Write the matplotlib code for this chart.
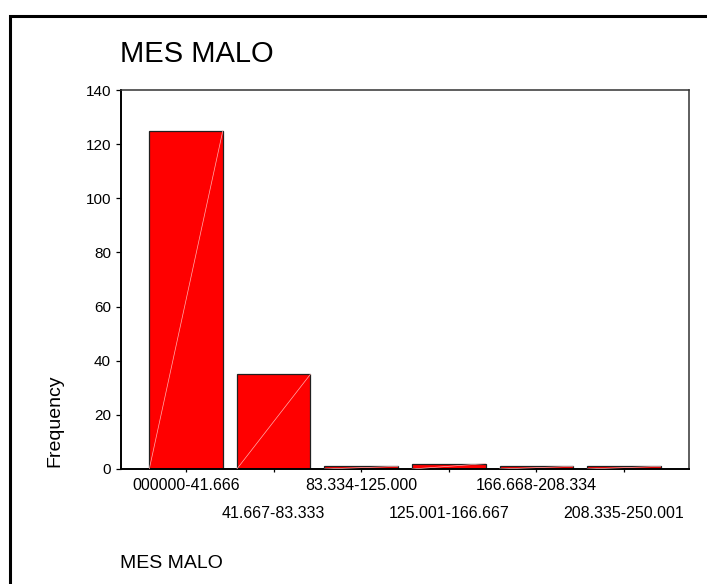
import matplotlib
matplotlib.use("Agg")
import matplotlib.pyplot as plt
from matplotlib.lines import Line2D
import matplotlib.transforms as mtransforms

plt.rcParams['font.family'] = ['Liberation Sans', 'DejaVu Sans']

categories = ["000000-41.666", "41.667-83.333", "83.334-125.000",
              "125.001-166.667", "166.668-208.334", "208.335-250.001"]
frequencies = [125, 35, 1, 2, 1, 1]
y_ticks = [0, 20, 40, 60, 80, 100, 120, 140]
title_text = "MES MALO"
xlabel_text = "MES MALO"
ylabel_text = "Frequency"

W, H = 707, 584
fig = plt.figure(figsize=(W / 100, H / 100), dpi=100)
fig.patch.set_facecolor('white')

ax = fig.add_axes([121 / W, 1 - 469 / H, (689 - 121) / W, (469 - 90) / H])
xs = list(range(len(categories)))
bw = 0.84
ax.bar(xs, frequencies, width=bw, color='#ff0000', edgecolor='#202020', linewidth=0.9, zorder=2)
for x, v in zip(xs, frequencies):
    ax.plot([x - bw / 2, x + bw / 2], [0, v], color='#ffb0b0', linewidth=0.5, zorder=3)

ax.set_xlim(-0.743, len(categories) - 1 + 0.743)
ax.set_ylim(0, 140)
ax.set_yticks(y_ticks)
ax.set_yticklabels([str(t) for t in y_ticks], fontsize=11)
ax.set_xticks(xs)
ax.set_xticklabels([])
ax.tick_params(axis='y', direction='out', length=3.6, width=0.9, pad=3.6)
ax.tick_params(axis='x', direction='out', length=2.2, width=0.9)

for side in ['left', 'bottom']:
    ax.spines[side].set_linewidth(1.4)
    ax.spines[side].set_color('black')
for side in ['top', 'right']:
    ax.spines[side].set_linewidth(1.1)
    ax.spines[side].set_color('#333333')

trans = mtransforms.blended_transform_factory(ax.transData, ax.transAxes)
for i, lbl in enumerate(categories):
    yy = -17 / 379 if i % 2 == 0 else -44 / 379
    ax.text(i, yy, lbl, transform=trans, ha='center', va='center', fontsize=11.5)

fig.text(120 / W, 1 - 54 / H, title_text, fontsize=21, ha='left', va='center')
fig.text(55 / W, 1 - 467 / H, ylabel_text, fontsize=14, rotation=90, ha='center', va='bottom')
fig.text(120 / W, 1 - 564 / H, xlabel_text, fontsize=14, ha='left', va='center')

fig.add_artist(Line2D([9.5 / W, 9.5 / W, 1.0], [0.0, 1 - 15.5 / H, 1 - 15.5 / H],
                      transform=fig.transFigure, color='black', linewidth=2.2,
                      solid_joinstyle='miter'))

fig.savefig("out.png", dpi=100)
